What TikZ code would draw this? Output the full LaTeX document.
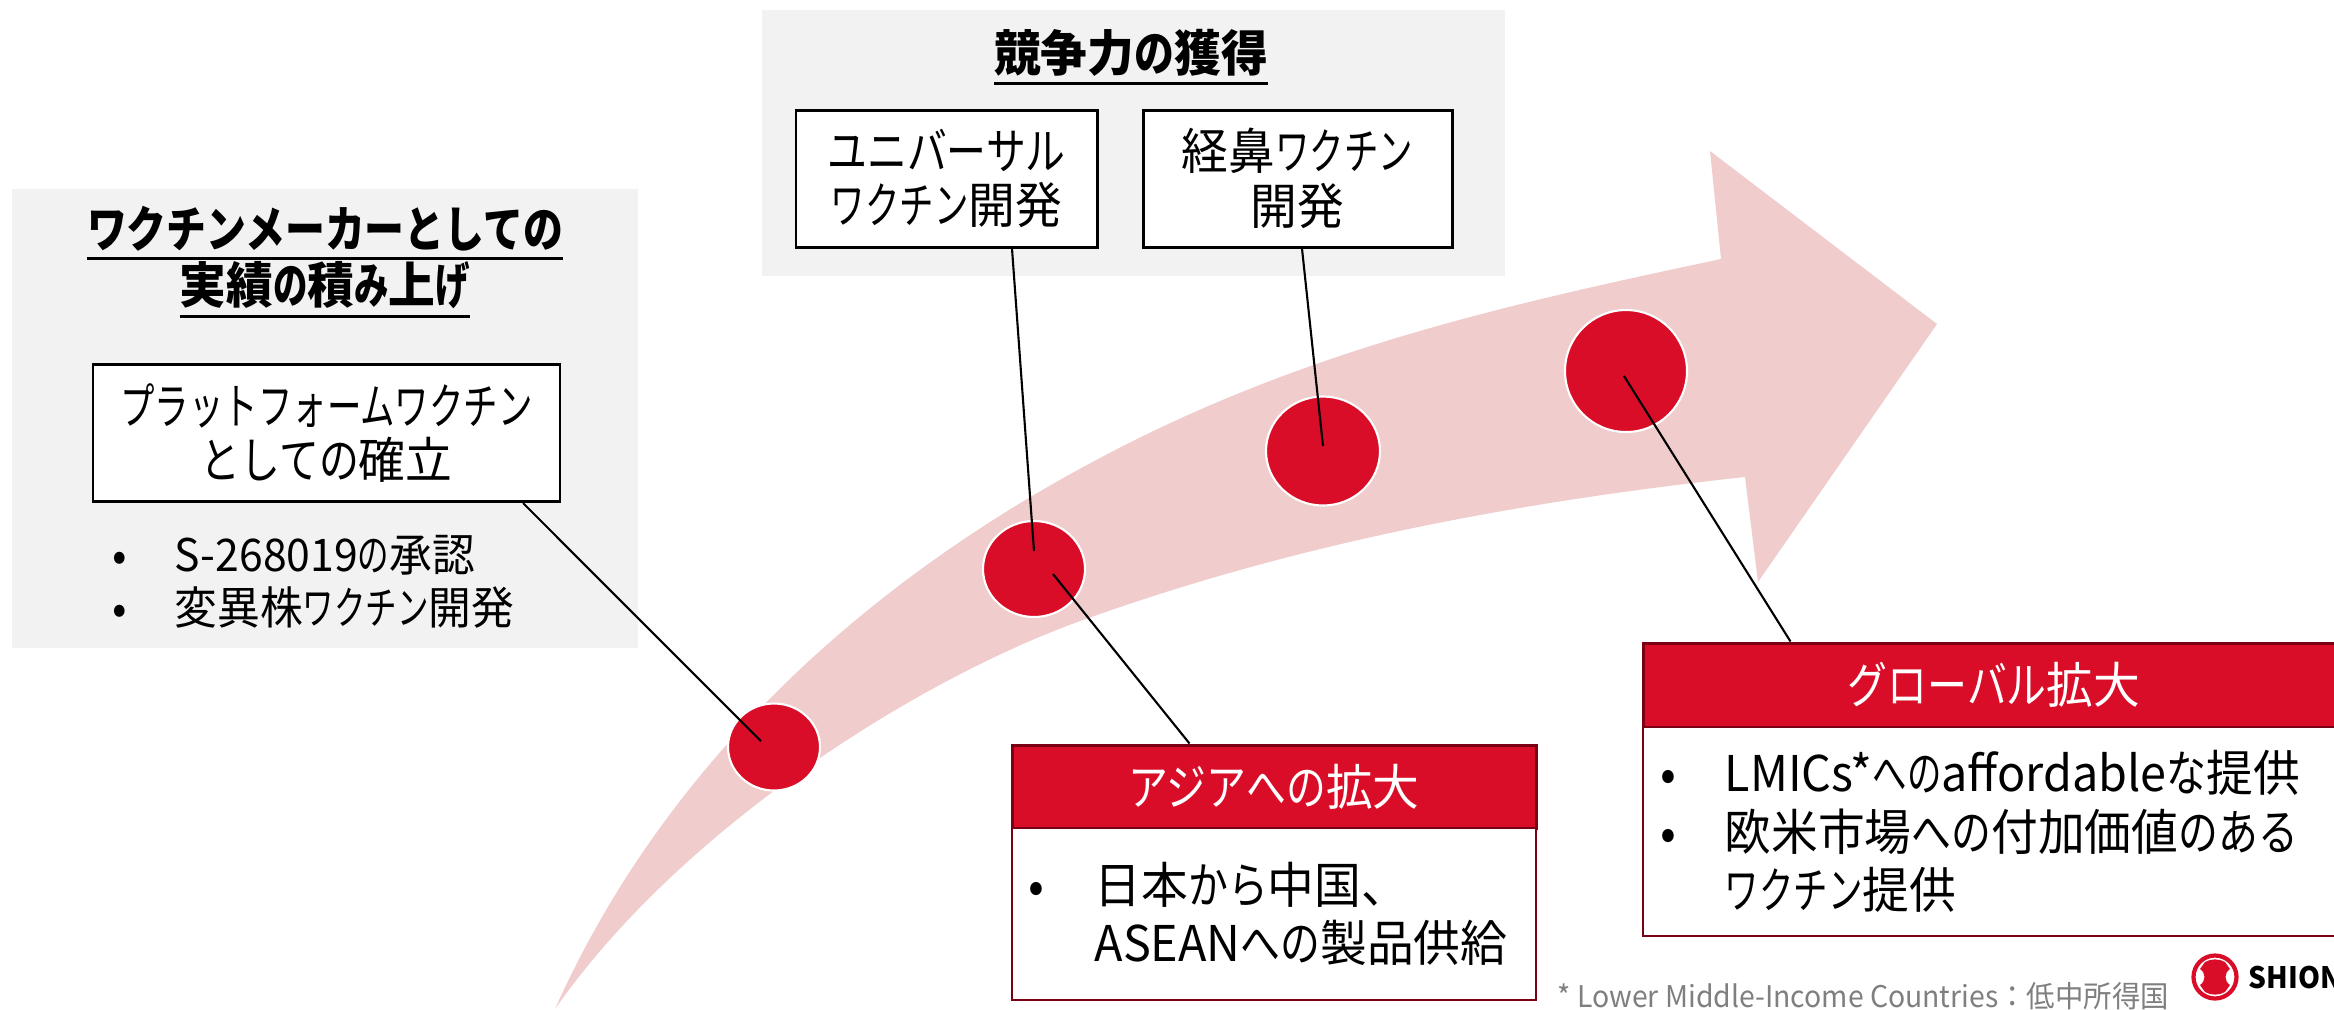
\documentclass[tikz,border=0pt]{standalone}
\usepackage{fontspec}
\setmainfont{Noto Sans CJK JP}[FakeStretch=0.95]
\newfontfamily\narrowkana{Noto Sans CJK JP}[FakeStretch=0.70]
\newfontfamily\widekana{Noto Sans CJK JP}[FakeStretch=0.81]
\newcommand{\kn}[1]{{\narrowkana #1}}
\newcommand{\kw}[1]{{\widekana #1}}
\newcommand{\titleline}[1]{\vtop{\hbox{#1}\kern1.5pt\hrule height 0.9pt}}
\usetikzlibrary{shapes.geometric}
\usetikzlibrary{calc}
\usetikzlibrary{positioning}
\definecolor{shionred}{HTML}{D90D27}
\definecolor{darkred}{HTML}{7A0014}
\definecolor{palered}{HTML}{F0CCCC}
\definecolor{panelgray}{HTML}{F2F2F2}
\definecolor{notegray}{HTML}{7F7F7F}

\begin{document}
\begin{tikzpicture}
        % Define styles for shapes
        \tikzstyle{panel} = [fill=panelgray, inner sep=0pt]
        \tikzstyle{whitebox} = [draw, fill=white, line width=0.85pt, inner sep=0pt, align=center, minimum height=1.37cm, font=\fontsize{14}{15.6}\selectfont]
        \tikzstyle{redhead} = [draw=darkred, fill=shionred, text=white, line width=0.85pt, inner sep=0pt, font=\fontsize{14}{15.6}\selectfont]
        \tikzstyle{redbody} = [draw=darkred, fill=white, line width=0.7pt, inner sep=0pt]
        \tikzstyle{dot} = [ellipse, draw=white, fill=shionred, line width=0.6pt, inner sep=0pt]
        \tikzstyle{leader} = [line width=0.6pt]
        \tikzstyle{heading} = [align=center, font=\fontsize{14}{16}\selectfont\bfseries]
        \tikzstyle{listtext} = [anchor=west, align=left, inner sep=0pt, font=\fontsize{14}{16}\selectfont]
        \useasboundingbox (0,0) rectangle (23.34,-10.09);

        % Draw panels
        \node[panel, minimum width=6.26cm, minimum height=4.59cm] (leftpanel) at (3.25, -4.185) {};
        \node[panel, minimum width=7.43cm, minimum height=2.66cm] (toppanel) at (11.335, -1.43) {};

        % Draw big arrow
        \fill[palered] (5.55,-10.09) .. controls (6.80,-7.30) and (9.10,-5.58) .. (11.00,-4.58)
            .. controls (13.07,-3.48) and (15.14,-3.03) .. (17.21,-2.59)
            -- (17.10,-1.51) -- (19.37,-3.24) -- (17.58,-5.82) -- (17.45,-4.77)
            .. controls (15.25,-5.01) and (13.03,-5.41) .. (10.83,-6.20)
            .. controls (9.15,-6.80) and (6.80,-8.30) .. (5.55,-10.09) -- cycle;

        % Draw circles
        \node[dot, minimum width=0.92cm, minimum height=0.87cm] (dot1) at (7.74, -7.47) {};
        \node[dot, minimum width=1.02cm, minimum height=0.96cm] (dot2) at (10.34, -5.69) {};
        \node[dot, minimum width=1.14cm, minimum height=1.09cm] (dot3) at (13.23, -4.51) {};
        \node[dot, minimum width=1.22cm, minimum height=1.22cm] (dot4) at (16.26, -3.71) {};

        % Draw white boxes
        \node[whitebox, minimum width=4.67cm] (platbox) at (3.265, -4.33) {\kn{プラットフォームワクチン}\\\kw{としての}確立};
        \node[whitebox, minimum width=3.01cm] (univbox) at (9.465, -1.785) {\kw{ユニバーサル}\\\kn{ワクチン}開発};
        \node[whitebox, minimum width=3.09cm] (nasalbox) at (12.975, -1.785) {経鼻\kn{ワクチン}\\開発};

        % Draw headings and lists
        \node[heading] (lefttitle) at (3.25, -2.62) {\titleline{\kw{ワクチンメーカーとしての}}\\\titleline{実績\kn{の}積\kn{み}上\kn{げ}}};
        \node[heading] (toptitle) at (11.31, -0.57) {\titleline{競争力\kw{の}獲得}};
        \node[listtext, font=\fontsize{12.8}{14.3}\selectfont] (leftlist) at (1.12, -5.87) {
                \begin{tabular}{@{}p{0.62cm}@{}l@{}}
                    • & S-268019\kn{の}承認 \\
                    • & 変異株\kn{ワクチン}開発 \\
                \end{tabular}
        };

        % Draw red boxes
        \node[redhead, minimum width=5.24cm, minimum height=0.83cm] (asiahead) at (12.74, -7.865) {\kw{アジアへの}拡大};
        \node[redbody, minimum width=5.24cm, minimum height=1.72cm] (asiabody) at (12.74, -9.14) {};
        \node[listtext] (asialist) at (10.28, -9.20) {
                \begin{tabular}{@{}p{0.66cm}@{}l@{}}
                    • & 日本\kw{から}中国、 \\
                      & ASEAN\kw{への}製品供給 \\
                \end{tabular}
        };
        \node[redhead, minimum width=7.02cm, minimum height=0.84cm] (globalhead) at (19.94, -6.85) {\kw{グローバル}拡大};
        \node[redbody, minimum width=7.02cm, minimum height=2.09cm] (globalbody) at (19.94, -8.315) {};
        \node[listtext] (globallist) at (16.60, -8.38) {
                \begin{tabular}{@{}p{0.64cm}@{}l@{}}
                    • & LMICs*\kn{への}affordable\kw{な}提供 \\
                    • & 欧米市場\kw{への}付加価値\kw{のある} \\
                      & \kn{ワクチン}提供 \\
                \end{tabular}
        };

        % Draw lines
        \draw[leader] ([xshift=1.965cm]platbox.south) -- ([shift={(-0.13,0.06)}]dot1.center);
        \draw[leader] ([xshift=0.655cm]univbox.south) -- ([shift={(0,0.18)}]dot2.center);
        \draw[leader] ([xshift=0.045cm]nasalbox.south) -- ([shift={(0,0.05)}]dot3.center);
        \draw[leader] ([shift={(-0.02,-0.05)}]dot4.center) -- ([xshift=1.49cm]globalhead.north west);
        \draw[leader] ([shift={(0.19,-0.05)}]dot2.center) -- ([xshift=1.79cm]asiahead.north west);

        % Draw footnote and logo
        \node[anchor=west, inner sep=0pt, text=notegray, font=\fontsize{8.5}{10}\selectfont] (footnote) at (15.57, -9.96) {* Lower Middle-Income Countries：低中所得国};
        \node[circle, draw=shionred, line width=1.2pt, minimum size=0.43cm, inner sep=0pt] (logoring) at (22.15, -9.77) {};
        \begin{scope}[shift={(logoring.center)}]
            \fill[shionred] (-0.10,0.15) .. controls (-0.04,0.185) and (0.04,0.185) .. (0.10,0.15)
                .. controls (0.12,0.12) .. (0.15,0.08) .. controls (0.09,0.04) and (0.09,-0.04) .. (0.15,-0.08)
                .. controls (0.12,-0.12) .. (0.10,-0.15) .. controls (0.04,-0.185) and (-0.04,-0.185) .. (-0.10,-0.15)
                .. controls (-0.12,-0.12) .. (-0.15,-0.08) .. controls (-0.09,-0.04) and (-0.09,0.04) .. (-0.15,0.08)
                .. controls (-0.12,0.12) .. (-0.10,0.15) -- cycle;
        \end{scope}
        \node[anchor=west, inner sep=0pt, font=\fontsize{8.4}{9}\selectfont\bfseries] (logotext) at (22.48, -9.77) {SHION};
\end{tikzpicture}
\end{document}
